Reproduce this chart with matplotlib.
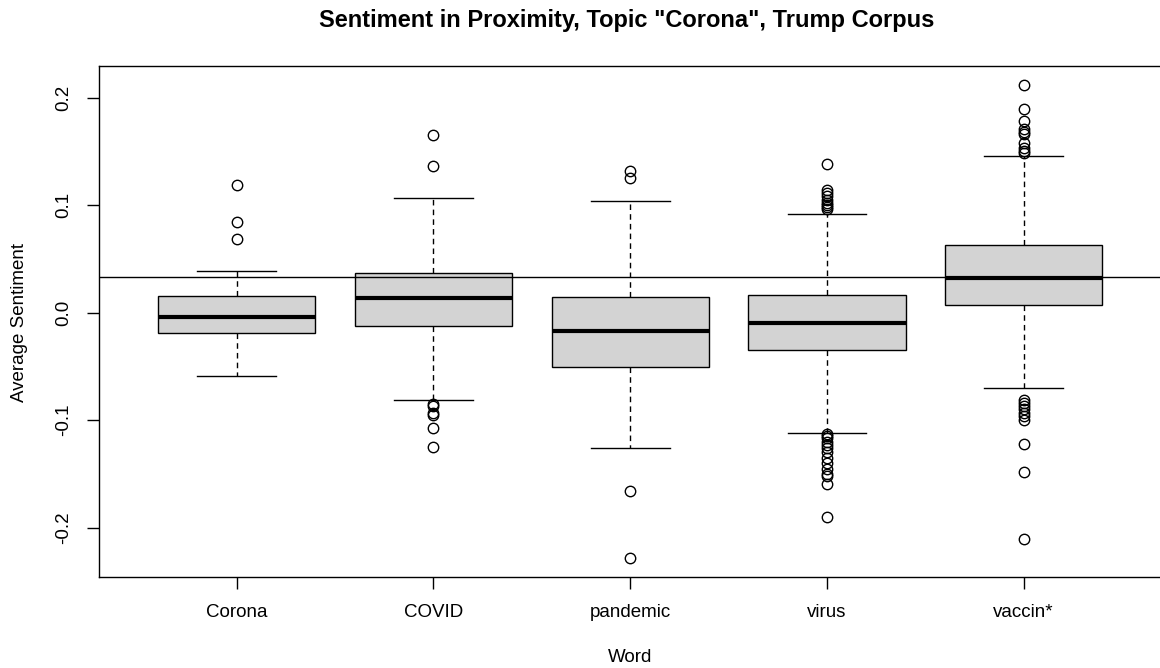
import matplotlib
matplotlib.use("Agg")
import matplotlib.pyplot as plt

plt.rcParams['font.family'] = ['Liberation Sans', 'DejaVu Sans']

# ---- data ----
words = ["Corona", "COVID", "pandemic", "virus", "vaccin*"]
q1 = [-0.0186, -0.0124, -0.0502, -0.0344, 0.0074]
medians = [-0.0044, 0.0137, -0.0170, -0.0100, 0.0319]
q3 = [0.0158, 0.0366, 0.0143, 0.0160, 0.0630]
whisk_lo = [-0.0586, -0.0810, -0.1260, -0.1116, -0.0698]
whisk_hi = [0.0390, 0.1070, 0.1040, 0.0920, 0.1460]

out_corona = [0.119, 0.084, 0.068]
out_covid = [0.165, 0.136, -0.085, -0.087, -0.093, -0.095, -0.107, -0.125]
out_pandemic = [0.132, 0.125, -0.166, -0.228]
out_virus = [0.138, 0.114, 0.111, 0.108, 0.105, 0.102, 0.100, 0.098, 0.096,
             -0.113, -0.115, -0.117, -0.120, -0.123, -0.126, -0.130, -0.135,
             -0.140, -0.145, -0.150, -0.152, -0.159, -0.190]
out_vaccin = [0.212, 0.189, 0.178, 0.171, 0.168, 0.166, 0.158, 0.153, 0.150, 0.148,
              -0.081, -0.084, -0.087, -0.090, -0.093, -0.096, -0.100, -0.122,
              -0.148, -0.211]
outliers = [out_corona, out_covid, out_pandemic, out_virus, out_vaccin]

overall_mean = 0.0335

yticks = [-0.2, -0.1, 0.0, 0.1, 0.2]
ytick_labels = ["-0.2", "-0.1", "0.0", "0.1", "0.2"]

title = 'Sentiment in Proximity, Topic "Corona", Trump Corpus'
xlabel = "Word"
ylabel = "Average Sentiment"

# ---- figure ----
W, H = 1160, 668
fig = plt.figure(figsize=(W / 100, H / 100), dpi=100)
left, right, top, bottom = 99, 1160, 65.7, 576.7
ax = fig.add_axes([left / W, (H - bottom) / H, (right - left) / W, (bottom - top) / H])

stats = []
for i, w in enumerate(words):
    stats.append(dict(label=w, med=medians[i], q1=q1[i], q3=q3[i],
                      whislo=whisk_lo[i], whishi=whisk_hi[i], fliers=outliers[i]))

ax.bxp(stats, positions=range(1, len(words) + 1), widths=0.8, patch_artist=True,
       boxprops=dict(facecolor="#d3d3d3", edgecolor="black", linewidth=1.0),
       medianprops=dict(color="black", linewidth=3.0, solid_capstyle="butt"),
       whiskerprops=dict(color="black", linewidth=1.0, linestyle=(0, (4, 3))),
       capprops=dict(color="black", linewidth=1.0),
       capwidths=0.4,
       flierprops=dict(marker="o", markerfacecolor="none", markeredgecolor="black",
                       markersize=7.5, markeredgewidth=1.0, linestyle="none"))

ax.axhline(overall_mean, color="black", linewidth=1.0, zorder=5)

ax.set_xlim(0.3, 0.3 + (right - left) / 196.75)
ax.set_ylim(-0.2456, 0.2296)

ax.set_yticks(yticks)
ax.set_yticklabels(ytick_labels, rotation=90, va="center")
ax.set_xticks(range(1, len(words) + 1))
ax.set_xticklabels(words)
ax.tick_params(axis="both", direction="out", length=8.5, width=1.0, labelsize=13.5)
ax.tick_params(axis="x", pad=11)
ax.tick_params(axis="y", pad=11)

ax.spines["right"].set_visible(False)
for s in ["left", "top", "bottom"]:
    ax.spines[s].set_linewidth(1.0)

fig.text(627 / W, 1 - 21 / H, title, ha="center", va="center",
         fontsize=17, fontweight="bold")
fig.text(630 / W, 1 - 657 / H, xlabel, ha="center", va="center", fontsize=13.5)
fig.text(20 / W, 1 - 322 / H, ylabel, ha="center", va="center", fontsize=13.5,
         rotation=90)

fig.savefig("out.png", dpi=100)
